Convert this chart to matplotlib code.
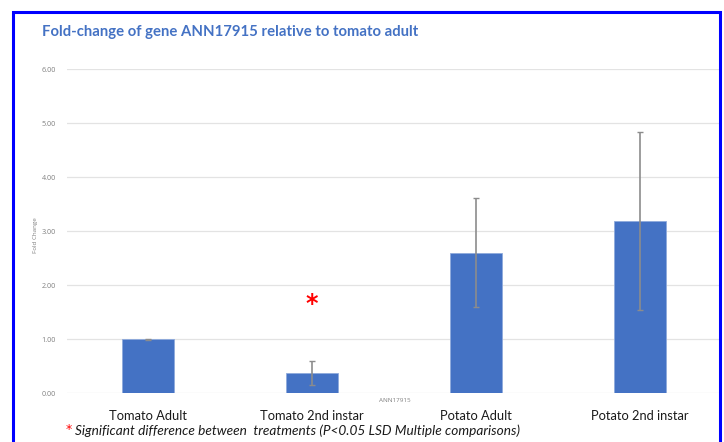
import matplotlib
matplotlib.use("Agg")
import matplotlib.pyplot as plt
from matplotlib.patches import Rectangle
import numpy as np

plt.rcParams['font.family'] = ['Lato', 'DejaVu Sans']

categories = ["Tomato Adult", "Tomato 2nd instar", "Potato Adult", "Potato 2nd instar"]
fold_change = [1.00, 0.38, 2.60, 3.19]
err_low = [0.01, 0.23, 1.01, 1.65]
err_high = [0.01, 0.22, 1.01, 1.64]
yticks = [0, 1, 2, 3, 4, 5, 6]
ytick_labels = ["0.00", "1.00", "2.00", "3.00", "4.00", "5.00", "6.00"]
significant = [False, True, False, False]
star_y = 1.66

W, H = 724, 442
fig = plt.figure(figsize=(W / 100, H / 100), dpi=100)
fig.patch.set_facecolor("white")

ax_l, ax_r, ax_t, ax_b = 67, 719, 69, 393.3
ax = fig.add_axes([ax_l / W, (H - ax_b) / H, (ax_r - ax_l) / W, (ax_b - ax_t) / H])

x = np.arange(len(categories))
ax.bar(x, fold_change, width=0.32, color="#4472C4", edgecolor="#8FAADC", linewidth=0.6, zorder=3)
ax.errorbar(x, fold_change, yerr=[err_low, err_high], fmt="none", ecolor="#8c8c8c",
            elinewidth=1.2, capsize=2.5, capthick=1.0, zorder=4)
for xi, s in zip(x, significant):
    if s:
        ax.text(xi, star_y, "*", color="red", fontsize=17, fontweight="bold",
                ha="center", va="center", zorder=5, family="DejaVu Sans")

ax.set_xlim(-(148 - ax_l) / 164, (ax_r - 148) / 164)
ax.set_ylim(0, 6)
ax.set_yticks(yticks, ytick_labels)
ax.set_xticks(x, categories)
ax.tick_params(axis="y", length=0, labelsize=5.2, labelcolor="#808080", pad=8)
for lab in ax.get_yticklabels():
    lab.set_family("Open Sans")
ax.tick_params(axis="x", length=0, labelsize=9.3, labelcolor="#1a1a1a", pad=12)
ax.grid(axis="y", color="#e3e3e3", linewidth=0.9, zorder=0)
for sp in ax.spines.values():
    sp.set_visible(False)

fig.text(36 / W, 1 - 235 / H, "Fold Change", rotation=90, fontsize=4.5, color="#808080",
         ha="center", va="center", family="Open Sans")
fig.text(395 / W, 1 - 401 / H, "ANN17915", fontsize=4.5, color="#808080",
         ha="center", va="center", family="Open Sans")
fig.text(42 / W, 1 - 32 / H, "Fold-change of gene ANN17915 relative to tomato adult",
         fontsize=10.7, fontweight="bold", color="#4472C4", ha="left", va="center")
fig.text(66 / W, 1 - 430 / H, "*", color="red", fontsize=9, ha="left", va="center",
         family="DejaVu Sans")
fig.text(75 / W, 1 - 431 / H,
         "Significant difference between  treatments (P<0.05 LSD Multiple comparisons)",
         fontsize=9.8, style="italic", color="#1a1a1a", ha="left", va="center")

fig.add_artist(Rectangle((13 / W, -0.05), (720 - 13) / W, 1.05 - 12 / H,
                         transform=fig.transFigure, fill=False, edgecolor="#0000FF",
                         linewidth=2.2, clip_on=False))

fig.savefig("out.png", dpi=100)
